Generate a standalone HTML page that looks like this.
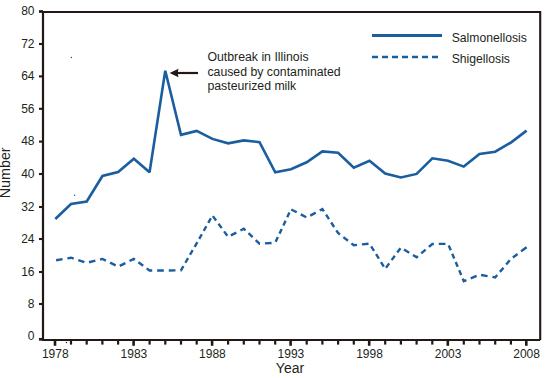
<!DOCTYPE html>
<html><head><meta charset="utf-8"><style>
html,body{margin:0;padding:0;background:#fff;}
body{width:557px;height:378px;overflow:hidden;}
svg{display:block;font-family:"Liberation Sans",sans-serif;}
text{fill:#231f20;}
</style></head><body>
<svg width="557" height="378" viewBox="0 0 557 378">
<rect x="0" y="0" width="557" height="378" fill="#fff"/>
<polyline points="43,12 540.2,12 540.2,340" fill="none" stroke="#231815" stroke-width="2.1"/>
<polyline points="43,11 43,340 540.2,340" fill="none" stroke="#231815" stroke-width="2.2"/>
<line x1="39" y1="11.5" x2="43" y2="11.5" stroke="#231815" stroke-width="2.7"/>
<text x="34.5" y="15.3" text-anchor="end" font-size="12">80</text>
<line x1="39" y1="44.0" x2="43" y2="44.0" stroke="#231815" stroke-width="2.1"/>
<text x="34.5" y="47.8" text-anchor="end" font-size="12">72</text>
<line x1="39" y1="76.4" x2="43" y2="76.4" stroke="#231815" stroke-width="2.1"/>
<text x="34.5" y="80.2" text-anchor="end" font-size="12">64</text>
<line x1="39" y1="108.8" x2="43" y2="108.8" stroke="#231815" stroke-width="2.1"/>
<text x="34.5" y="112.6" text-anchor="end" font-size="12">56</text>
<line x1="39" y1="141.6" x2="43" y2="141.6" stroke="#231815" stroke-width="2.1"/>
<text x="34.5" y="145.4" text-anchor="end" font-size="12">48</text>
<line x1="39" y1="174.0" x2="43" y2="174.0" stroke="#231815" stroke-width="2.1"/>
<text x="34.5" y="177.8" text-anchor="end" font-size="12">40</text>
<line x1="39" y1="207.0" x2="43" y2="207.0" stroke="#231815" stroke-width="2.1"/>
<text x="34.5" y="210.8" text-anchor="end" font-size="12">32</text>
<line x1="39" y1="239.0" x2="43" y2="239.0" stroke="#231815" stroke-width="2.1"/>
<text x="34.5" y="242.8" text-anchor="end" font-size="12">24</text>
<line x1="39" y1="272.0" x2="43" y2="272.0" stroke="#231815" stroke-width="2.1"/>
<text x="34.5" y="275.8" text-anchor="end" font-size="12">16</text>
<line x1="39" y1="304.0" x2="43" y2="304.0" stroke="#231815" stroke-width="2.1"/>
<text x="34.5" y="307.8" text-anchor="end" font-size="12">8</text>
<line x1="39" y1="339.3" x2="43" y2="339.3" stroke="#231815" stroke-width="2.7"/>
<text x="34.5" y="340.3" text-anchor="end" font-size="12">0</text>
<line x1="55.0" y1="340" x2="55.0" y2="345.8" stroke="#231815" stroke-width="2.6"/>
<text x="55.3" y="357.8" text-anchor="middle" font-size="12">1978</text>
<line x1="71.0" y1="340" x2="71.0" y2="344.6" stroke="#231815" stroke-width="2.2"/>
<line x1="86.7" y1="340" x2="86.7" y2="344.6" stroke="#231815" stroke-width="2.2"/>
<line x1="102.4" y1="340" x2="102.4" y2="344.6" stroke="#231815" stroke-width="2.2"/>
<line x1="118.1" y1="340" x2="118.1" y2="344.6" stroke="#231815" stroke-width="2.2"/>
<line x1="133.6" y1="340" x2="133.6" y2="345.8" stroke="#231815" stroke-width="2.6"/>
<text x="133.9" y="357.8" text-anchor="middle" font-size="12">1983</text>
<line x1="149.6" y1="340" x2="149.6" y2="344.6" stroke="#231815" stroke-width="2.2"/>
<line x1="165.3" y1="340" x2="165.3" y2="344.6" stroke="#231815" stroke-width="2.2"/>
<line x1="181.0" y1="340" x2="181.0" y2="344.6" stroke="#231815" stroke-width="2.2"/>
<line x1="196.7" y1="340" x2="196.7" y2="344.6" stroke="#231815" stroke-width="2.2"/>
<line x1="212.1" y1="340" x2="212.1" y2="345.8" stroke="#231815" stroke-width="2.6"/>
<text x="212.4" y="357.8" text-anchor="middle" font-size="12">1988</text>
<line x1="228.1" y1="340" x2="228.1" y2="344.6" stroke="#231815" stroke-width="2.2"/>
<line x1="243.8" y1="340" x2="243.8" y2="344.6" stroke="#231815" stroke-width="2.2"/>
<line x1="259.5" y1="340" x2="259.5" y2="344.6" stroke="#231815" stroke-width="2.2"/>
<line x1="275.2" y1="340" x2="275.2" y2="344.6" stroke="#231815" stroke-width="2.2"/>
<line x1="290.6" y1="340" x2="290.6" y2="345.8" stroke="#231815" stroke-width="2.6"/>
<text x="290.9" y="357.8" text-anchor="middle" font-size="12">1993</text>
<line x1="306.7" y1="340" x2="306.7" y2="344.6" stroke="#231815" stroke-width="2.2"/>
<line x1="322.4" y1="340" x2="322.4" y2="344.6" stroke="#231815" stroke-width="2.2"/>
<line x1="338.1" y1="340" x2="338.1" y2="344.6" stroke="#231815" stroke-width="2.2"/>
<line x1="353.8" y1="340" x2="353.8" y2="344.6" stroke="#231815" stroke-width="2.2"/>
<line x1="369.2" y1="340" x2="369.2" y2="345.8" stroke="#231815" stroke-width="2.6"/>
<text x="369.5" y="357.8" text-anchor="middle" font-size="12">1998</text>
<line x1="385.2" y1="340" x2="385.2" y2="344.6" stroke="#231815" stroke-width="2.2"/>
<line x1="400.9" y1="340" x2="400.9" y2="344.6" stroke="#231815" stroke-width="2.2"/>
<line x1="416.6" y1="340" x2="416.6" y2="344.6" stroke="#231815" stroke-width="2.2"/>
<line x1="432.3" y1="340" x2="432.3" y2="344.6" stroke="#231815" stroke-width="2.2"/>
<line x1="447.8" y1="340" x2="447.8" y2="345.8" stroke="#231815" stroke-width="2.6"/>
<text x="448.1" y="357.8" text-anchor="middle" font-size="12">2003</text>
<line x1="463.8" y1="340" x2="463.8" y2="344.6" stroke="#231815" stroke-width="2.2"/>
<line x1="479.5" y1="340" x2="479.5" y2="344.6" stroke="#231815" stroke-width="2.2"/>
<line x1="495.2" y1="340" x2="495.2" y2="344.6" stroke="#231815" stroke-width="2.2"/>
<line x1="510.9" y1="340" x2="510.9" y2="344.6" stroke="#231815" stroke-width="2.2"/>
<line x1="526.3" y1="340" x2="526.3" y2="345.8" stroke="#231815" stroke-width="2.6"/>
<text x="526.6" y="357.8" text-anchor="middle" font-size="12">2008</text>
<text x="0" y="0" font-size="14.3" text-anchor="middle" transform="translate(10.3,172.8) rotate(-90)">Number</text>
<text x="290" y="372.5" font-size="14" text-anchor="middle">Year</text>
<polyline points="55.30,219.00 71.01,204.00 86.72,201.50 102.43,176.00 118.14,172.00 133.85,158.70 149.56,172.20 165.27,70.80 180.98,134.80 196.69,130.90 212.40,138.90 228.11,143.30 243.82,140.40 259.53,142.10 275.24,172.30 290.95,169.20 306.66,162.30 322.37,151.40 338.08,152.80 353.79,167.80 369.50,160.80 385.21,173.50 400.92,177.50 416.63,173.90 432.34,158.30 448.05,160.80 463.76,166.60 479.47,154.00 495.18,151.70 510.89,142.60 526.60,130.60" fill="none" stroke="#1a5e9f" stroke-width="2.6" stroke-linejoin="miter" stroke-miterlimit="2"/>
<path d="M56.06,260.27 L62.59,259.15 M67.39,258.32 L71.01,257.70 L73.75,258.59 M78.27,260.06 L84.41,262.05 M89.01,262.23 L95.37,260.65 M100.05,259.49 L102.43,258.90 L105.93,260.62 M110.06,262.64 L115.66,265.38 M119.78,265.80 L125.38,263.05 M129.50,261.03 L133.85,258.90 L134.91,259.68 M138.42,262.27 L143.18,265.79 M146.69,268.38 L149.56,270.50 L152.22,270.50 M157.15,270.50 L163.85,270.50 M168.78,270.46 L175.48,270.37 M180.41,270.31 L180.98,270.30 L183.42,266.10 M185.39,262.73 L188.05,258.14 M190.02,254.77 L192.69,250.18 M194.65,246.81 L196.69,243.30 L197.30,242.21 M199.22,238.82 L201.82,234.22 M203.74,230.83 L206.34,226.22 M208.26,222.83 L210.86,218.22 M212.87,216.14 L216.10,220.52 M218.48,223.74 L221.71,228.12 M224.09,231.35 L227.32,235.73 M230.83,235.42 L236.36,232.60 M240.43,230.52 L243.82,228.80 L245.43,230.32 M248.48,233.22 L252.62,237.15 M255.67,240.04 L259.53,243.70 L259.99,243.67 M264.90,243.36 L271.57,242.93 M275.65,241.82 L277.87,237.10 M279.51,233.63 L281.73,228.91 M283.36,225.44 L285.58,220.72 M287.21,217.25 L289.43,212.53 M291.23,209.45 L296.72,212.31 M300.76,214.42 L306.25,217.29 M310.27,215.57 L315.71,212.66 M319.72,210.52 L322.37,209.10 L323.89,211.40 M326.06,214.71 L329.01,219.20 M331.18,222.50 L334.13,226.99 M336.30,230.29 L338.08,233.00 L339.92,234.43 M343.34,237.09 L347.98,240.69 M351.40,243.34 L353.79,245.20 L357.01,244.87 M361.90,244.37 L368.54,243.70 M371.17,246.28 L374.00,250.81 M376.08,254.15 L378.90,258.68 M380.98,262.02 L383.81,266.55 M385.99,267.75 L389.23,263.37 M391.62,260.15 L394.86,255.78 M397.25,252.56 L400.49,248.18 M404.03,249.52 L409.19,252.71 M412.99,255.05 L416.63,257.30 L417.94,256.19 M421.20,253.43 L425.63,249.68 M428.89,246.92 L432.34,244.00 L433.83,243.98 M438.76,243.92 L445.45,243.83 M448.75,245.46 L450.75,250.23 M452.23,253.75 L454.23,258.52 M455.71,262.03 L457.71,266.80 M459.19,270.31 L461.19,275.08 M462.67,278.59 L463.76,281.20 L466.42,280.10 M470.73,278.32 L476.59,275.89 M481.07,274.97 L487.60,276.10 M492.40,276.92 L495.18,277.40 L497.25,274.98 M499.90,271.87 L503.50,267.66 M506.15,264.55 L509.75,260.34 M512.87,257.51 L517.59,253.97 M521.07,251.36 L525.79,247.81 M522.82,250.04 L526.60,247.20" fill="none" stroke="#1a5e9f" stroke-width="2.4"/>
<line x1="372" y1="35.5" x2="442" y2="35.5" stroke="#1a5e9f" stroke-width="3"/>
<line x1="372" y1="57" x2="442" y2="57" stroke="#1a5e9f" stroke-width="2.3" stroke-dasharray="6 4"/>
<text x="451.7" y="41.6" font-size="12.2">Salmonellosis</text>
<text x="451.7" y="62.7" font-size="12.2">Shigellosis</text>
<text font-size="12.3"><tspan x="207.4" y="61.3">Outbreak in Illinois</tspan><tspan x="207.4" y="75.5">caused by contaminated</tspan><tspan x="207.4" y="89.5">pasteurized milk</tspan></text>
<line x1="176" y1="73" x2="198" y2="73" stroke="#231815" stroke-width="2.2"/>
<path d="M169.6,73 L178.5,68.8 L177.6,73 L178.5,77.2 Z" fill="#231815"/>
<circle cx="71.4" cy="57.4" r="0.75" fill="#1a5e9f"/>
<circle cx="74.6" cy="195.3" r="0.7" fill="#1a5e9f"/>
<circle cx="66.5" cy="342.5" r="0.7" fill="#231815"/>
</svg>
</body></html>
